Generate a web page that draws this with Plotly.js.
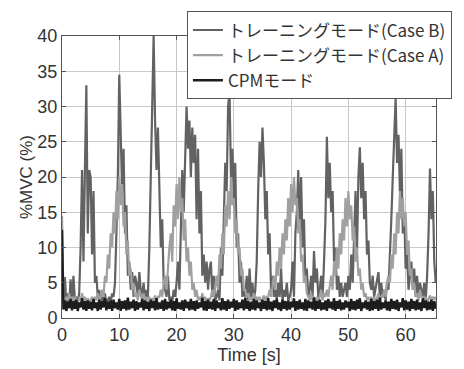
<!DOCTYPE html>
<html>
<head>
<meta charset="utf-8">
<script src="https://cdn.plot.ly/plotly-3.0.1.min.js"></script>
<style>html,body{margin:0;padding:0;background:#fff;}#chart{width:464px;height:369px;}</style>
</head>
<body>
<div id="chart"></div>
<script>
// sampling step of the time axis (s)
const sampleStep = 0.25;

const seriesNames = ["トレーニングモード(Case B)", "トレーニングモード(Case A)", "CPMモード"];

// Case B (one row per second, 4 samples per second)
const caseB = [
  3.0, 2.5, 5.8, 2.2,
  3.5, 2.0, 5.5, 2.4,
  6.0, 2.5, 3.0, 2.2,
  3.5, 10, 21, 8,
  21, 33, 12, 21,
  20, 9, 18, 5,
  6, 3, 4, 2.5,
  3, 2.2, 3.5, 2.0,
  2.5, 3.0, 2.2, 3.5,
  3, 5, 12, 20,
  34.5, 26, 18, 24,
  12, 16, 6, 8,
  4, 6.5, 3, 6,
  5, 3, 6.5, 4,
  3, 5, 2.5, 4,
  3, 10, 20, 28,
  40, 28, 21, 27,
  18, 10, 14, 5,
  4, 3, 6, 2.5,
  3, 2.2, 4, 3,
  5, 8, 4, 12,
  21, 15, 22, 30,
  24, 28, 20, 27,
  22, 26, 14, 24,
  12, 18, 6, 9,
  5, 8, 4, 7,
  8, 3, 6, 2.5,
  3, 4, 2.5, 10,
  6, 15, 22, 18,
  30, 32, 20, 24,
  17, 22, 10, 12,
  5, 8, 3, 4,
  3, 6, 2.5, 7,
  3, 5, 2.5, 4,
  8, 18, 25, 20,
  27, 22, 14, 18,
  9, 12, 4, 6,
  3, 4, 2.5, 5,
  3, 7, 2.5, 4,
  3, 5, 2.5, 3,
  4, 8, 3, 12,
  15, 21, 13, 20,
  10, 14, 5, 7,
  3, 4, 6, 3,
  9.5, 5, 7, 3,
  4, 6, 3, 8,
  14, 25.7, 17, 22,
  15, 18, 8, 10,
  4, 6, 3, 5,
  3, 4, 5, 3,
  6, 4, 9, 5,
  12, 18, 9, 20,
  24.2, 17, 22, 14,
  18, 9, 11, 5,
  4, 6, 3, 4,
  5, 6.5, 3, 5,
  3, 4, 2.5, 5,
  4, 8, 14, 20,
  25, 31.2, 22, 26,
  18, 24, 12, 15,
  7, 9, 4, 6,
  8, 4, 7, 3,
  6, 3, 5, 4,
  3, 5, 2.5, 6,
  12, 21.2, 14, 18,
  8, 5
];

// Case A
const caseA = [
  14.5, 3, 2, 3,
  2.5, 3.5, 2, 3,
  2.2, 3, 2.5, 2,
  3, 2.5, 3.5, 2.5,
  3, 2.2, 2.8, 2.4,
  2.5, 3, 2.2, 3,
  2.5, 3.5, 2.5, 3,
  4, 3, 6, 5,
  9, 7, 12, 10,
  15, 12, 18, 14,
  20, 16, 19, 13,
  15, 9, 11, 6,
  7, 4, 5, 3,
  3.5, 2.5, 4, 3,
  2.5, 3.5, 2.2, 3,
  2.5, 3, 2.2, 2.8,
  2.5, 3.2, 2.4, 3,
  3, 4, 3, 5,
  6, 4, 8, 10,
  12, 8, 16, 13,
  19, 14, 20, 15,
  17, 11, 14, 8,
  10, 6, 8, 4,
  5, 3, 4, 2.5,
  3, 2.5, 3.5, 2.5,
  3, 2.2, 2.8, 2.5,
  3, 4, 3, 5,
  6, 4, 9, 7,
  12, 9, 16, 13,
  18, 14, 20, 16,
  17, 12, 14, 9,
  10, 6, 7, 4,
  4, 3, 3.5, 2.5,
  3, 2.5, 3.5, 2.5,
  3, 2.5, 3, 2.2,
  2.8, 3.2, 2.5, 3,
  3, 4, 3, 5,
  6, 4, 8, 6,
  10, 7, 12, 9,
  14, 11, 17, 13,
  19, 15, 20, 16,
  17, 12, 14, 8,
  9, 5, 6, 3.5,
  3, 2.5, 3.5, 2.5,
  3, 2.2, 3, 2.5,
  3, 4, 2.5, 3.5,
  3, 4, 3, 5,
  6, 4, 8, 6,
  10, 7, 12, 9,
  14, 11, 17, 13,
  18, 14, 16, 11,
  13, 8, 10, 6,
  7, 4, 5, 3,
  3.5, 2.5, 3, 2.5,
  3, 2.2, 3, 2.5,
  2.8, 3.5, 2.5, 3,
  3, 4, 3, 5,
  6, 5, 9, 7,
  12, 9, 15, 12,
  18, 14, 17, 13,
  15, 9, 11, 6,
  7, 4, 5, 3,
  3.5, 2.5, 4, 3,
  3, 2.5, 3, 2.2,
  2.8, 3.2, 2.5, 3,
  2.6, 3
];

// CPM mode
const cpm = [
  12.5, 1.2, 2.5, 1.0, 2.3, 1.4, 2.7, 1.1, 2.4, 1.3,
  2.6, 1.0, 2.2, 1.5, 2.8, 1.2, 2.4, 1.0, 2.5, 1.3,
  2.3, 1.1, 2.7, 1.4, 2.2, 1.0, 2.6, 1.2, 2.4, 1.5,
  2.8, 1.1, 2.3, 1.3, 2.5, 1.0, 2.6, 1.4, 2.2, 1.2,
  2.7, 1.0, 2.4, 1.3, 2.5, 1.1, 2.9, 1.2, 2.3, 1.4,
  2.6, 1.0, 2.4, 1.2, 2.2, 1.5, 2.7, 1.1, 2.5, 1.3,
  2.3, 1.0, 2.6, 1.4, 2.4, 1.1, 2.8, 1.2, 2.2, 1.3,
  2.5, 1.0, 2.7, 1.2, 2.3, 1.4, 2.6, 1.1, 2.4, 1.0,
  2.8, 1.3, 2.2, 1.2, 2.5, 1.0, 2.6, 1.4, 2.3, 1.1,
  2.7, 1.2, 2.4, 1.0, 2.5, 1.3, 2.2, 1.5, 2.9, 1.1,
  2.4, 1.0, 2.6, 1.3, 2.3, 1.2, 2.7, 1.0, 2.5, 1.4,
  2.2, 1.1, 2.8, 1.2, 2.4, 1.0, 2.6, 1.3, 2.3, 1.5,
  2.7, 1.0, 2.5, 1.2, 2.2, 1.4, 2.6, 1.1, 2.9, 1.3,
  2.4, 1.0, 2.3, 1.2, 2.7, 1.1, 2.5, 1.4, 2.2, 1.0,
  2.6, 1.3, 2.4, 1.1, 2.8, 1.2, 2.3, 1.0, 2.5, 1.4,
  2.7, 1.2, 2.2, 1.0, 2.6, 1.3, 2.4, 1.1, 2.5, 1.2,
  2.3, 1.5, 2.8, 1.0, 2.4, 1.2, 2.6, 1.3, 2.2, 1.1,
  2.7, 1.0, 2.5, 1.4, 2.3, 1.2, 2.9, 1.0, 2.4, 1.3,
  2.6, 1.1, 2.2, 1.2, 2.5, 1.0, 2.7, 1.4, 2.3, 1.2,
  2.8, 1.0, 2.4, 1.3, 2.6, 1.1, 2.2, 1.2, 2.5, 1.5,
  2.3, 1.0, 2.7, 1.2, 2.4, 1.1, 2.6, 1.3, 2.8, 1.0,
  2.2, 1.4, 2.5, 1.2, 2.3, 1.0, 2.7, 1.1, 2.4, 1.3,
  2.6, 1.0, 2.9, 1.2, 2.2, 1.4, 2.5, 1.1, 2.3, 1.0,
  2.7, 1.3, 2.4, 1.2, 2.6, 1.0, 2.2, 1.5, 2.8, 1.1,
  2.5, 1.2, 2.3, 1.0, 2.7, 1.3, 2.4, 1.1, 2.6, 1.2,
  2.2, 1.0, 2.8, 1.4, 2.5, 1.1, 2.3, 1.2, 2.6, 1.0,
  2.4, 1.3
];

const xTicks = [0, 10, 20, 30, 40, 50, 60];
const yTicks = [0, 5, 10, 15, 20, 25, 30, 35, 40];

function timeAxis(n) { return Array.from({length: n}, (_, i) => i * sampleStep); }

const colors = ["#626262", "#a0a0a0", "#1c1c1c"];
const widths = [2.2, 2.2, 2.4];
const allSeries = [caseB, caseA, cpm];

const traces = allSeries.map((ys, k) => ({
  x: timeAxis(ys.length),
  y: ys,
  type: "scatter",
  mode: "lines",
  name: seriesNames[k],
  line: {color: colors[k], width: widths[k]},
  hoverinfo: "skip"
}));

const axisCommon = {
  showgrid: true,
  gridcolor: "#c9c9c9",
  gridwidth: 1,
  zeroline: false,
  showline: true,
  linecolor: "#555",
  linewidth: 1,
  mirror: "allticks",
  ticks: "inside",
  ticklen: 4,
  tickcolor: "#555",
  tickfont: {family: "Liberation Sans, Arial, sans-serif", size: 18, color: "#333"}
};

const layout = {
  width: 464,
  height: 369,
  margin: {l: 62, r: 25, t: 32, b: 51},
  paper_bgcolor: "#fff",
  plot_bgcolor: "#fff",
  showlegend: true,
  xaxis: Object.assign({}, axisCommon, {
    range: [0, 65.3],
    tickvals: xTicks,
    ticktext: xTicks.map(String),
    title: {text: "Time [s]", font: {family: "Liberation Sans, Arial, sans-serif", size: 18, color: "#333"}, standoff: 0}
  }),
  yaxis: Object.assign({}, axisCommon, {
    range: [0, 40],
    tickvals: yTicks,
    ticktext: yTicks.map(String),
    title: {text: "%MVC (%)", font: {family: "Liberation Sans, Arial, sans-serif", size: 17, color: "#333"}, standoff: 0}
  }),
  legend: {
    x: 0.334, xanchor: "left",
    y: 1.087, yanchor: "top",
    bgcolor: "#fff",
    bordercolor: "#555",
    borderwidth: 1,
    font: {family: "Noto Sans CJK JP, sans-serif", size: 17, color: "#333"},
    tracegroupgap: 0
  }
};

Plotly.newPlot("chart", traces, layout, {staticPlot: true, displayModeBar: false});
</script>
</body>
</html>
